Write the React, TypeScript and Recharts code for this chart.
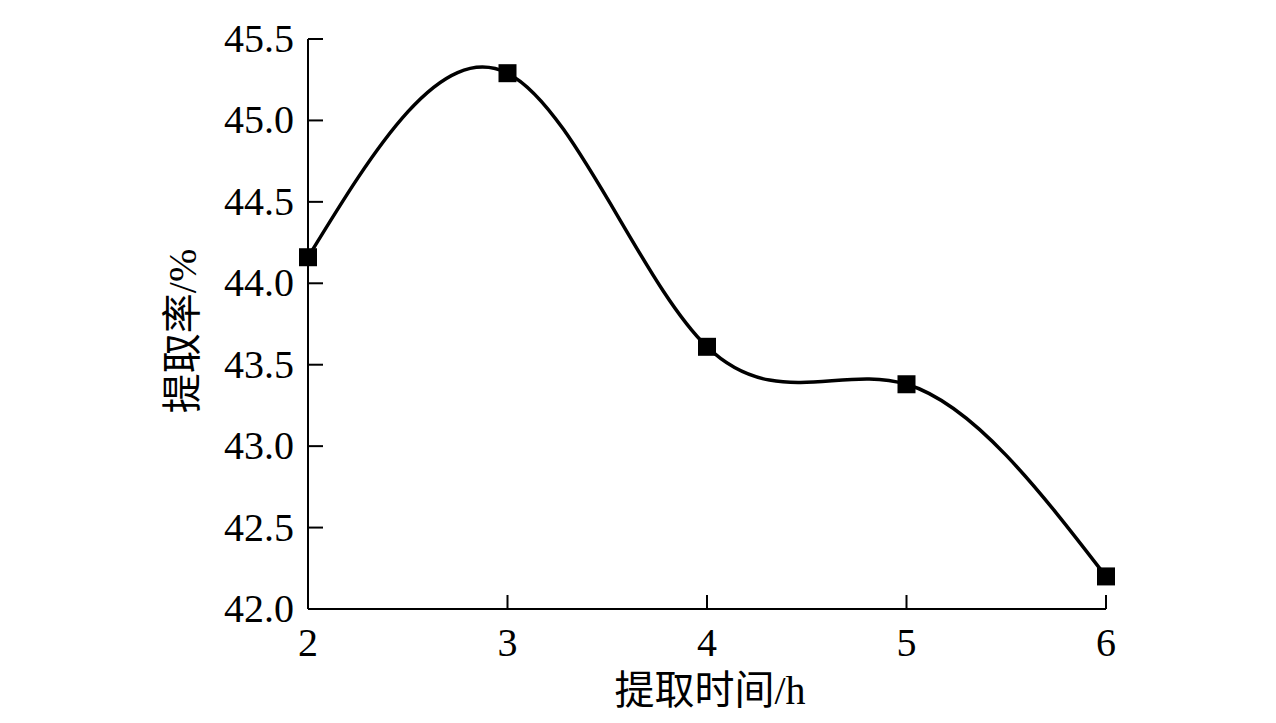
import React from 'react';
import { LineChart, Line, XAxis, YAxis } from 'recharts';

const times = [2, 3, 4, 5, 6];
const rates = [44.16, 45.29, 43.61, 43.38, 42.2];
const xTicks = [2, 3, 4, 5, 6];
const yTicks = [42.0, 42.5, 43.0, 43.5, 44.0, 44.5, 45.0, 45.5];
const xLabel = '提取时间/h';
const yLabel = '提取率/%';

const data = times.map((t, i) => ({ t, r: rates[i] }));

const FONT = "'Liberation Serif', 'Noto Sans CJK SC', serif";

const XTick = (props: any) => {
  const { x, y, payload } = props;
  return (
    <g>
      <line x1={x} y1={y} x2={x} y2={y - 14} stroke="#000" strokeWidth={2} />
      <text x={x} y={y + 47} textAnchor="middle" fontSize={40} fontFamily={FONT} fill="#000">
        {payload.value}
      </text>
    </g>
  );
};

const YTick = (props: any) => {
  const { x, y, payload } = props;
  return (
    <g>
      <line x1={x} y1={y} x2={x + 15} y2={y} stroke="#000" strokeWidth={2} />
      <text x={x - 14} y={y + 13} textAnchor="end" fontSize={40} fontFamily={FONT} fill="#000">
        {Number(payload.value).toFixed(1)}
      </text>
    </g>
  );
};

const SquareDot = (props: any) => {
  const { cx, cy } = props;
  if (cx == null || cy == null) return null;
  return <rect x={cx - 9} y={cy - 9} width={18} height={18} fill="#000" />;
};

export default function App() {
  return (
    <div style={{ width: 1260, height: 707 }}>
      <LineChart width={1260} height={707} data={data} margin={{ top: 31, right: 162, bottom: 66, left: 220 }}>
        <XAxis
          dataKey="t"
          type="number"
          domain={[2, 6]}
          ticks={xTicks}
          axisLine={{ stroke: '#000', strokeWidth: 2 }}
          tickLine={false}
          tickSize={0}
          tickMargin={0}
          height={40}
          tick={<XTick />}
          label={{
            content: (p: any) => {
              const vb = p.viewBox || {};
              return (
                <text
                  x={vb.x + vb.width / 2 + 3}
                  y={682}
                  textAnchor="middle"
                  dominantBaseline="central"
                  fontSize={40}
                  fontFamily={FONT}
                  fill="#000"
                >
                  {xLabel}
                </text>
              );
            },
          }}
        />
        <YAxis
          type="number"
          domain={[42, 45.5]}
          ticks={yTicks}
          width={80}
          axisLine={{ stroke: '#000', strokeWidth: 2 }}
          tickLine={false}
          tickSize={0}
          tickMargin={0}
          tick={<YTick />}
          label={{
            content: (p: any) => {
              const vb = p.viewBox || {};
              const cx = 174;
              const cy = vb.y + vb.height / 2 + 7;
              return (
                <text
                  x={cx}
                  y={cy}
                  transform={`rotate(-90, ${cx}, ${cy})`}
                  textAnchor="middle"
                  dominantBaseline="central"
                  fontSize={40}
                  fontFamily={FONT}
                  fill="#000"
                >
                  {yLabel}
                </text>
              );
            },
          }}
        />
        <Line
          type="natural"
          dataKey="r"
          stroke="#000"
          strokeWidth={3.5}
          dot={<SquareDot />}
          activeDot={false}
          isAnimationActive={false}
        />
      </LineChart>
    </div>
  );
}
